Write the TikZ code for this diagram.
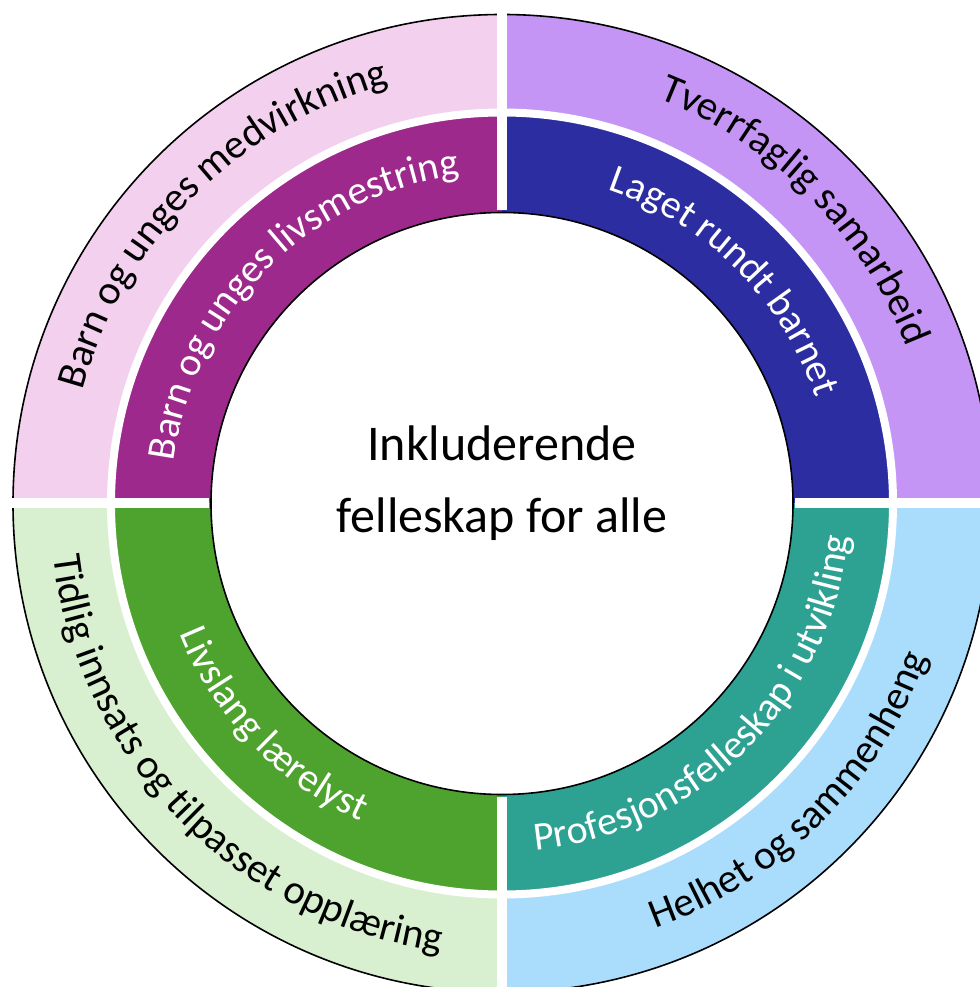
\documentclass[tikz,border=0pt]{standalone}
\usepackage{fontspec}
\setmainfont{Carlito}
\usetikzlibrary{decorations.text}
\definecolor{pinkL}{RGB}{242,208,238}
\definecolor{lilaL}{RGB}{197,149,245}
\definecolor{greenL}{RGB}{216,240,208}
\definecolor{blueL}{RGB}{170,221,252}
\definecolor{pinkD}{RGB}{158,41,140}
\definecolor{blueD}{RGB}{44,45,160}
\definecolor{greenD}{RGB}{78,162,46}
\definecolor{tealD}{RGB}{45,162,146}
\newcommand{\ringfont}{\fontsize{41}{50}\selectfont}
\newcommand{\innfont}{\fontsize{40}{50}\selectfont}
\tikzset{rim/.style = {draw=black, line width=1.6pt},
    gap/.style = {draw=white, line width=10pt},
    t/.style   = {decorate, decoration={text along path, text align=center, text color=black}},
    w/.style   = {decorate, decoration={text along path, text align=center, text color=white}}}

\begin{document}
\begin{tikzpicture}[x=1pt, y=1pt]
    \useasboundingbox (-502,-483.5) rectangle (477,503.5);
    % outer and inner quarters
    \foreach \a/\co/\ci in {90/pinkL/pinkD, 0/lilaL/blueD, 180/greenL/greenD, 270/blueL/tealD} {
        \fill[\co] (\a:387pt) arc[start angle=\a, end angle=\a+90, radius=387pt]
            -- (\a+90:489pt) arc[start angle=\a+90, end angle=\a, radius=489pt] -- cycle;
        \fill[\ci] (\a:291pt) arc[start angle=\a, end angle=\a+90, radius=291pt]
            -- (\a+90:391pt) arc[start angle=\a+90, end angle=\a, radius=391pt] -- cycle;
    }
    \draw[rim] (0,0) circle[radius=489pt];
    \draw[draw=white, line width=8pt] (0,0) circle[radius=391pt];
    \coordinate (c) at (0,0);
    \foreach \a in {0,90,180,270} \draw[gap] (\a:293pt) -- (\a:500pt);
    \draw[rim] (c) circle[radius=291pt];

    \path[t, decoration={text={|\ringfont|Barn og unges medvirkning}}]
        (180:434pt) arc[start angle=180, end angle=90, radius=434pt];
    \path[t, decoration={text={|\ringfont|Tverrfaglig samarbeid}}]
        (90:434pt) arc[start angle=90, end angle=0, radius=434pt];
    \path[t, decoration={text={|\ringfont|Tidlig innsats og tilpasset opplæring}}]
        (172:452pt) arc[start angle=172, end angle=277, radius=452pt];
    \path[t, decoration={text={|\ringfont|Helhet og sammenheng}}]
        (-95:452pt) arc[start angle=-95, end angle=5, radius=452pt];

    \path[w, decoration={text={|\innfont|Barn og unges livsmestring}}]
        (185:331pt) arc[start angle=185, end angle=85, radius=331pt];
    \path[w, decoration={text={|\innfont|Laget rundt barnet}}]
        (95:331pt) arc[start angle=95, end angle=-5, radius=331pt];
    \path[w, decoration={text={|\innfont|Livslang lærelyst}}]
        (174:348pt) arc[start angle=174, end angle=274, radius=348pt];
    \path[w, decoration={text={|\innfont|Profesjonsfelleskap i utvikling}}]
        (-100:348pt) arc[start angle=-100, end angle=10, radius=348pt];

    \node[align=center, font=\fontsize{50}{72}\selectfont] (mid) at (0,20) {Inkluderende\\felleskap for alle};
\end{tikzpicture}
\end{document}
